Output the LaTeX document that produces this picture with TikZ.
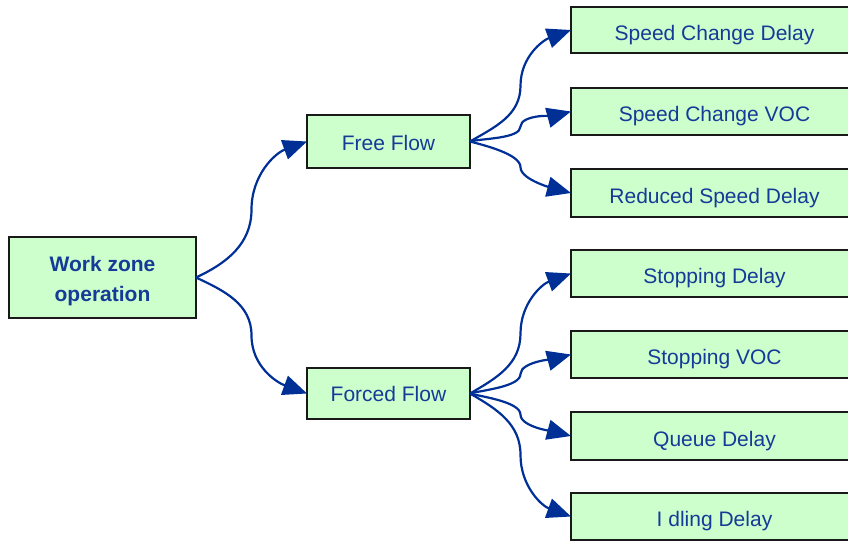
\documentclass[tikz,border=0pt]{standalone}
\usepackage{fontspec}
\setmainfont{Liberation Sans}
\usetikzlibrary{arrows.meta,calc}
\definecolor{boxfill}{RGB}{204,255,204}
\definecolor{txtblue}{RGB}{22,58,152}
\definecolor{arrblue}{RGB}{0,48,150}
\begin{document}
\begin{tikzpicture}[x=1pt,y=1pt,
  box/.style={draw=black!90, line width=1.8pt, fill=boxfill, text=txtblue,
    font=\fontsize{21}{30}\selectfont, inner sep=0pt, outer sep=0pt, anchor=north west},
  leaf/.style={box, minimum width=287, minimum height=47, text height=20pt, text depth=0pt},
  mid/.style={box, minimum width=163, text height=17pt, text depth=0pt},
  conn/.style={draw=arrblue, line width=2.2pt, -{Triangle[length=24pt,width=20pt]}}]
\useasboundingbox (0,0) rectangle (848,-541);
% nodes
\node[box, minimum width=187, minimum height=81, align=center, text height=47pt, text depth=0pt,
      font=\bfseries\fontsize{21}{30}\selectfont] (wz) at (9,-237) {Work zone\\operation};
\node[mid, minimum height=53] (ff) at (307,-115) {Free Flow};
\node[mid, minimum height=51, text height=16pt] (fc) at (307,-368) {Forced Flow};
\node[leaf, minimum height=46] (scd) at (571,-7) {Speed Change Delay};
\node[leaf] (scv) at (571,-88) {Speed Change VOC};
\node[leaf, minimum height=48] (rsd) at (571,-169) {Reduced Speed Delay};
\node[leaf] (sd) at (571,-250) {Stopping Delay};
\node[leaf] (sv) at (571,-331) {Stopping VOC};
\node[leaf, minimum height=48] (qd) at (571,-412) {Queue Delay};
\node[leaf] (id) at (571,-493) {I dling Delay};
% connectors: up-going
\draw[conn] (wz.east) to[out=25,in=-90] ($(wz.east)!0.5!(ff.west)$) to[out=90,in=200] (ff.west);
\draw[conn] (ff.east) to[out=30,in=-90] ($(ff.east)!0.5!(scd.west)$) to[out=90,in=200] (scd.west);
\draw[conn] (ff.east) to[out=15,in=-90,looseness=0.6] ($(ff.east)!0.5!(scv.west)$) to[out=90,in=195,looseness=0.6] (scv.west);
\draw[conn] (fc.east) to[out=30,in=-90] ($(fc.east)!0.5!(sd.west)$) to[out=90,in=200] (sd.west);
\draw[conn] (fc.east) to[out=15,in=-90,looseness=0.6] ($(fc.east)!0.5!(sv.west)$) to[out=90,in=195,looseness=0.6] (sv.west);
% connectors: down-going
\draw[conn] (wz.east) to[out=-25,in=90] ($(wz.east)!0.5!(fc.west)$) to[out=-90,in=160] (fc.west);
\draw[conn] (ff.east) to[out=-15,in=90,looseness=0.6] ($(ff.east)!0.5!(rsd.west)$) to[out=-90,in=165,looseness=0.6] (rsd.west);
\draw[conn] (fc.east) to[out=-15,in=90,looseness=0.6] ($(fc.east)!0.5!(qd.west)$) to[out=-90,in=165,looseness=0.6] (qd.west);
\draw[conn] (fc.east) to[out=-30,in=90] ($(fc.east)!0.5!(id.west)$) to[out=-90,in=160] (id.west);
\end{tikzpicture}
\end{document}
